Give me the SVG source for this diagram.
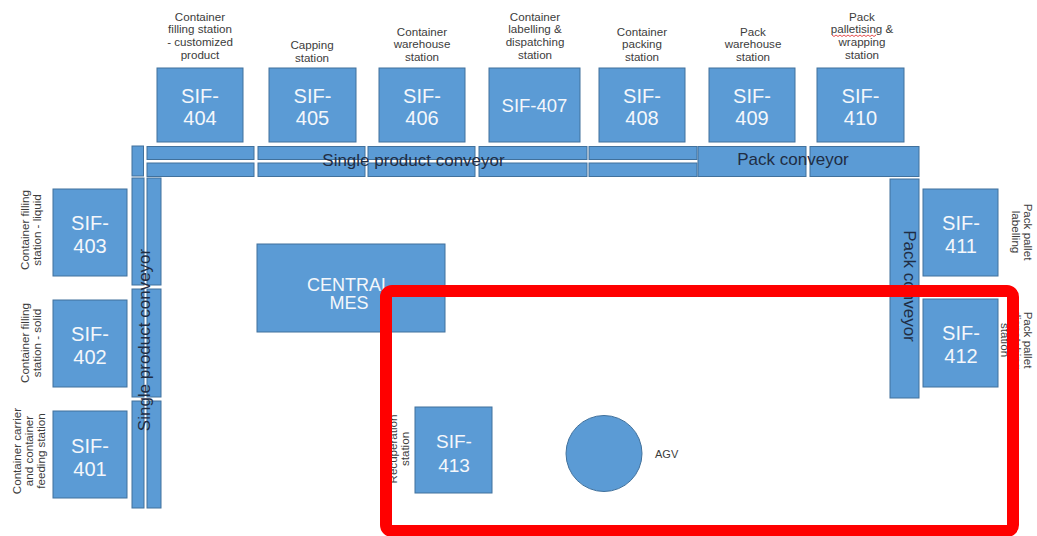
<svg xmlns="http://www.w3.org/2000/svg" width="1037" height="536" viewBox="0 0 1037 536">
  <style>
    .box { fill: #5b9bd5; stroke: #41719c; stroke-width: 1; }
    .seg { fill: #5b9bd5; stroke: #41719c; stroke-width: 1; }
    .id { font-family: "Liberation Sans", Arial, sans-serif; fill: #f4f7fb; text-anchor: middle; }
    .id-top { font-size: 20px; }
    .id-side { font-size: 20px; }
    .lbl { font-family: "Liberation Sans", Arial, sans-serif; font-size: 11.6px; fill: #3c3c3c; text-anchor: middle; }
    .conv { font-family: "Liberation Sans", Arial, sans-serif; font-size: 17px; fill: #1f2d44; text-anchor: middle; }
    .zone { fill: none; stroke: #ff0000; stroke-width: 12; }
  </style>

  <rect width="1037" height="536" fill="#ffffff"/>

  <!-- conveyor belts (segments) -->
  <g id="connectors">
    <!-- top single product conveyor: two lanes per segment -->
    <rect class="seg" x="147" y="146.5" width="107" height="13"/>
    <rect class="seg" x="147" y="163" width="107" height="13.5"/>
    <rect class="seg" x="258" y="146.5" width="107" height="13"/>
    <rect class="seg" x="258" y="163" width="107" height="13.5"/>
    <rect class="seg" x="368" y="146.5" width="107" height="13"/>
    <rect class="seg" x="368" y="163" width="107" height="13.5"/>
    <rect class="seg" x="479" y="146.5" width="108" height="13"/>
    <rect class="seg" x="479" y="163" width="108" height="13.5"/>
    <rect class="seg" x="589" y="146.5" width="108" height="13"/>
    <rect class="seg" x="589" y="163" width="108" height="13.5"/>
    <!-- top pack conveyor -->
    <rect class="seg" x="698" y="146.5" width="108" height="30"/>
    <rect class="seg" x="810" y="146.5" width="109" height="30"/>
    <!-- right pack conveyor -->
    <rect class="seg" x="890" y="179" width="29" height="219"/>
    <!-- left single product conveyor -->
    <rect class="seg" x="132" y="146" width="11.5" height="30"/>
    <rect class="seg" x="132" y="178" width="12" height="107"/>
    <rect class="seg" x="147" y="178" width="14" height="107"/>
    <rect class="seg" x="132" y="289" width="12" height="108"/>
    <rect class="seg" x="147" y="289" width="14" height="108"/>
    <rect class="seg" x="132" y="401" width="12" height="107"/>
    <rect class="seg" x="147" y="401" width="14" height="107"/>

    <text class="conv" x="413.5" y="165.5">Single product conveyor</text>
    <text class="conv" x="793" y="165">Pack conveyor</text>
    <text class="conv" transform="translate(150 340) rotate(-90)" x="0" y="0">Single product conveyor</text>
    <text class="conv" transform="translate(904 286) rotate(90)" x="0" y="0">Pack conveyor</text>
  </g>

  <!-- top row stations -->
  <g id="sif-404">
    <rect class="box" x="157" y="68" width="86" height="74"/>
    <text class="id id-top" x="200" y="102.5">SIF-</text>
    <text class="id id-top" x="200" y="125">404</text>
    <text class="lbl" x="200" y="20.5">Container</text>
    <text class="lbl" x="200" y="33.3">filling station</text>
    <text class="lbl" x="200" y="46.1">- customized</text>
    <text class="lbl" x="200" y="58.9">product</text>
  </g>
  <g id="sif-405">
    <rect class="box" x="269" y="68" width="87" height="74"/>
    <text class="id id-top" x="312.5" y="102.5">SIF-</text>
    <text class="id id-top" x="312.5" y="125">405</text>
    <text class="lbl" x="312" y="49">Capping</text>
    <text class="lbl" x="312" y="61.8">station</text>
  </g>
  <g id="sif-406">
    <rect class="box" x="379" y="68" width="86" height="74"/>
    <text class="id id-top" x="422" y="102.5">SIF-</text>
    <text class="id id-top" x="422" y="125">406</text>
    <text class="lbl" x="422" y="35.5">Container</text>
    <text class="lbl" x="422" y="48.3">warehouse</text>
    <text class="lbl" x="422" y="61.1">station</text>
  </g>
  <g id="sif-407">
    <rect class="box" x="489" y="68" width="91" height="74"/>
    <text class="id" style="font-size:18.5px" x="534.5" y="112">SIF-407</text>
    <text class="lbl" x="535" y="20.5">Container</text>
    <text class="lbl" x="535" y="33.3">labelling &amp;</text>
    <text class="lbl" x="535" y="46.1">dispatching</text>
    <text class="lbl" x="535" y="58.9">station</text>
  </g>
  <g id="sif-408">
    <rect class="box" x="599" y="68" width="86" height="74"/>
    <text class="id id-top" x="642" y="102.5">SIF-</text>
    <text class="id id-top" x="642" y="125">408</text>
    <text class="lbl" x="642" y="35.5">Container</text>
    <text class="lbl" x="642" y="48.3">packing</text>
    <text class="lbl" x="642" y="61.1">station</text>
  </g>
  <g id="sif-409">
    <rect class="box" x="709" y="68" width="86" height="74"/>
    <text class="id id-top" x="752" y="102.5">SIF-</text>
    <text class="id id-top" x="752" y="125">409</text>
    <text class="lbl" x="753" y="35.5">Pack</text>
    <text class="lbl" x="753" y="48.3">warehouse</text>
    <text class="lbl" x="753" y="61.1">station</text>
  </g>
  <g id="sif-410">
    <rect class="box" x="817" y="68" width="87" height="74"/>
    <text class="id id-top" x="860.5" y="102.5">SIF-</text>
    <text class="id id-top" x="860.5" y="125">410</text>
    <text class="lbl" x="862" y="20.5">Pack</text>
    <text class="lbl" x="862" y="33.3">palletising &amp;</text>
    <text class="lbl" x="862" y="46.1">wrapping</text>
    <text class="lbl" x="862" y="58.9">station</text>
    <!-- spell-check squiggle under "palletising" -->
    <polyline points="832,35 834,36.5 836,35 838,36.5 840,35 842,36.5 844,35 846,36.5 848,35 850,36.5 852,35 854,36.5 856,35 858,36.5 860,35 862,36.5 864,35 866,36.5 868,35 870,36.5 872,35 874,36.5 876,35" fill="none" stroke="#e23b3b" stroke-width="0.9"/>
  </g>

  <!-- left column stations -->
  <g id="sif-403">
    <rect class="box" x="53" y="189" width="74" height="87"/>
    <text class="id id-side" x="90" y="230">SIF-</text>
    <text class="id id-side" x="90" y="252.5">403</text>
    <g transform="translate(0 230) rotate(-90)">
      <text class="lbl" x="0" y="29">Container filling</text>
      <text class="lbl" x="0" y="40.5">station - liquid</text>
    </g>
  </g>
  <g id="sif-402">
    <rect class="box" x="53" y="300" width="74" height="87"/>
    <text class="id id-side" x="90" y="341">SIF-</text>
    <text class="id id-side" x="90" y="363.5">402</text>
    <g transform="translate(0 343) rotate(-90)">
      <text class="lbl" x="0" y="29">Container filling</text>
      <text class="lbl" x="0" y="40.5">station - solid</text>
    </g>
  </g>
  <g id="sif-401">
    <rect class="box" x="53" y="411" width="74" height="87"/>
    <text class="id id-side" x="90" y="453">SIF-</text>
    <text class="id id-side" x="90" y="475.5">401</text>
    <g transform="translate(0 451) rotate(-90)">
      <text class="lbl" x="0" y="21">Container carrier</text>
      <text class="lbl" x="0" y="33">and container</text>
      <text class="lbl" x="0" y="45">feeding station</text>
    </g>
  </g>

  <!-- right column stations -->
  <g id="sif-411">
    <rect class="box" x="923" y="189" width="75" height="87"/>
    <text class="id id-side" x="961" y="230">SIF-</text>
    <text class="id id-side" x="961" y="253">411</text>
    <g transform="translate(1024 232) rotate(90)">
      <text class="lbl" x="0" y="0">Pack pallet</text>
      <text class="lbl" x="0" y="11.8">labelling</text>
    </g>
  </g>
  <g id="sif-412">
    <rect class="box" x="923" y="299" width="75" height="88"/>
    <text class="id id-side" x="961" y="340">SIF-</text>
    <text class="id id-side" x="961" y="363">412</text>
    <g transform="translate(1024 340) rotate(90)">
      <text class="lbl" x="0" y="0">Pack pallet</text>
      <text class="lbl" x="0" y="11.5">dispatching</text>
      <text class="lbl" x="0" y="23">station</text>
    </g>
  </g>

  <!-- central MES -->
  <g id="central-mes">
    <rect class="box" x="257" y="244" width="188" height="88"/>
    <text class="id" style="font-size:18px" x="349" y="291">CENTRAL</text>
    <text class="id" style="font-size:18px" x="349" y="309">MES</text>
  </g>

  <!-- recuperation station -->
  <g id="sif-413">
    <rect class="box" x="415" y="407" width="77" height="86"/>
    <text class="id" style="font-size:19px" x="454" y="448">SIF-</text>
    <text class="id" style="font-size:19px" x="454" y="472">413</text>
    <g transform="translate(0 449) rotate(-90)">
      <text class="lbl" x="0" y="397">Recuperation</text>
      <text class="lbl" x="0" y="409">station</text>
    </g>
  </g>

  <!-- AGV -->
  <g id="agv">
    <circle class="box" cx="604" cy="453.5" r="38"/>
    <text class="lbl" style="font-size:11px;text-anchor:start" x="655" y="458">AGV</text>
  </g>

  <!-- highlighted zone -->
  <g id="zone">
    <rect class="zone" x="386" y="291" width="627" height="240" rx="6"/>
  </g>
</svg>
